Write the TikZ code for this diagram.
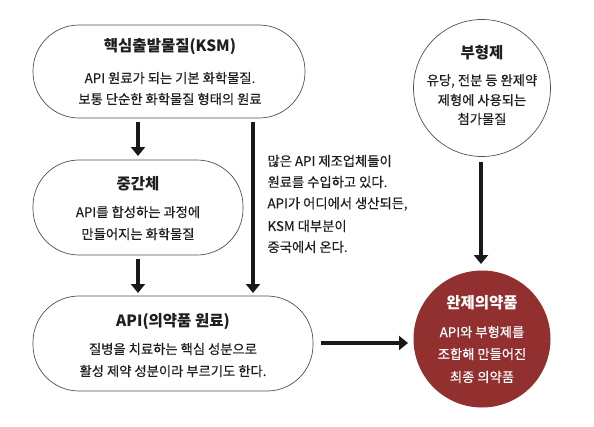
\documentclass[tikz,border=0pt]{standalone}
\usepackage{fontspec}
\setmainfont{Noto Sans CJK KR}
\newfontface\bodyface{Noto Sans CJK KR}[FakeBold=0.35]
\usetikzlibrary{arrows.meta}
\definecolor{redfill}{RGB}{146,48,48}
\definecolor{edge}{RGB}{80,80,80}
\definecolor{txt}{RGB}{30,30,30}
\tikzset{
  pill/.style={draw=edge, line width=0.7pt, rounded corners=46pt, fill=white},
  circ/.style={circle, draw=edge, line width=0.7pt, minimum size=137pt, inner sep=0pt},
  redcirc/.style={circle, fill=redfill, minimum size=137pt, inner sep=0pt},
  ttl/.style={font=\fontsize{15.5}{18}\selectfont\bfseries, text=txt},
  body/.style={font=\bodyface\fontsize{13.3}{15}\selectfont, text=txt},
  flow/.style={line width=4.5pt, draw=black!90, -{Triangle[width=14pt,length=9pt]}},
}
\begin{document}
\begin{tikzpicture}[x=1pt,y=-1pt]
\useasboundingbox (0,0) rectangle (594,426);
% boxes
\draw[pill] (33,25) rectangle (305,118);
\draw[pill] (33,160) rectangle (243,255);
\draw[pill] (33,296) rectangle (313,391);
\node[circ] (buh) at (482,88) {};
\node[redcirc] (wan) at (482,339) {};
% anchors for connectors
\coordinate (k1) at (138,122);
\coordinate (m1) at (138,156);
\coordinate (m2) at (138,259);
\coordinate (a1) at (138,293);
\coordinate (k2) at (253,122);
\coordinate (a2) at (253,293);
\coordinate (b1) at (481,162);
\coordinate (w1) at (481,264);
\coordinate (a3) at (321,343);
\coordinate (w2) at (408,343);
\draw[flow] (k1) -- (m1);
\draw[flow] (m2) -- (a1);
\draw[flow] (k2) -- (a2);
\draw[flow] (b1) -- (w1);
\draw[flow] (a3) -- (w2);
% texts
\node[ttl] (t1) at (170,47) {핵심출발물질(KSM)};
\node[body] (t1a) at (170,78) {API 원료가 되는 기본 화학물질.};
\node[body] (t1b) at (170,99) {보통 단순한 화학물질 형태의 원료};
\node[ttl] (t2) at (138,184) {중간체};
\node[body] (t2a) at (138,212) {API를 합성하는 과정에};
\node[body] (t2b) at (138,234) {만들어지는 화학물질};
\node[ttl] (t3) at (173,322) {API(의약품 원료)};
\node[body] (t3a) at (173,349) {질병을 치료하는 핵심 성분으로};
\node[body] (t3b) at (173,371) {활성 제약 성분이라 부르기도 한다.};
\node[body, anchor=west] (n1) at (264,161) {많은 API 제조업체들이};
\node[body, anchor=west] (n2) at (264,182) {원료를 수입하고 있다.};
\node[body, anchor=west] (n3) at (264,204) {API가 어디에서 생산되든,};
\node[body, anchor=west] (n4) at (264,226) {KSM 대부분이};
\node[body, anchor=west] (n5) at (264,247) {중국에서 온다.};
\node[ttl] (t4) at (482,53) {부형제};
\node[body] (t4a) at (482,81) {유당, 전분 등 완제약};
\node[body] (t4b) at (482,100) {제형에 사용되는};
\node[body] (t4c) at (482,119) {첨가물질};
\node[ttl, text=white] (t5) at (482,303) {완제의약품};
\node[body, text=white] (t5a) at (482,332) {API와 부형제를};
\node[body, text=white] (t5b) at (482,354) {조합해 만들어진};
\node[body, text=white] (t5c) at (482,377) {최종 의약품};
\end{tikzpicture}
\end{document}
